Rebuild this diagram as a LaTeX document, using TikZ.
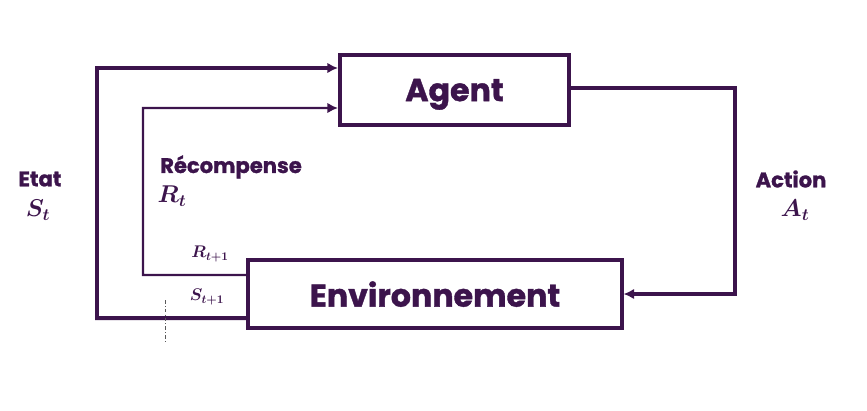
\documentclass[tikz,border=0pt]{standalone}
\usepackage{fontspec}
\setmainfont{Poppins}[BoldFeatures={FakeBold=1.2}]
\usepackage{bm}
\usetikzlibrary{arrows.meta}
\definecolor{prune}{RGB}{60,20,76}
\begin{document}
\begin{tikzpicture}[x=0.03cm,y=-0.03cm,
    bloc/.style={draw=prune,fill=white,text=prune,font=\fontsize{27}{30}\selectfont\bfseries,inner sep=0pt,text depth=0pt},
    lien/.style={draw=prune,-{Latex[length=9pt,width=9pt]}},
    etiq/.style={text=prune,font=\fontsize{18}{20}\selectfont\bfseries,inner sep=0pt},
    symb/.style={text=prune,font=\fontsize{21}{24}\selectfont,inner sep=0pt},
    petit/.style={text=prune,font=\fontsize{14}{16}\selectfont,inner sep=0pt}]
  \useasboundingbox (0,0) rectangle (867,410);
  % les deux blocs
  \node[bloc,line width=3.4pt,minimum width=6.87cm,minimum height=2.1cm] (agent) at (454.5,90) {Agent};
  \node[bloc,line width=2.6pt,minimum width=11.22cm,minimum height=2.04cm] (env) at (435,294) {Environnement};
  % boucles de retour
  \draw[lien,line width=3.4pt] ([yshift=-.72cm]env.west) -- (97,318) |- ([yshift=.66cm]agent.west);
  \draw[lien,line width=1.8pt] ([yshift=.57cm]env.west) -- (143,275) |- ([yshift=-.54cm]agent.west);
  \draw[lien,line width=2.6pt] ([yshift=.06cm]agent.east) -- (735,88) |- (env.east);
  \draw[gray!70!black,line width=.5pt,dash dot] (165,300) -- (165,342);
  % etiquettes
  \node[etiq] (etat) at (40,179) {Etat};
  \node[symb] (st) at (38,210) {$\bm{S_t}$};
  \node[etiq,anchor=west] (recomp) at (160,167) {Récompense};
  \node[symb] (rt) at (172,196) {$\bm{R_t}$};
  \node[etiq] (action) at (791,179) {Action};
  \node[symb] (at) at (795,210) {$\bm{A_t}$};
  \node[petit] (rt1) at (210,254) {$\bm{R_{t+1}}$};
  \node[petit] (st1) at (207,297) {$\bm{S_{t+1}}$};
\end{tikzpicture}
\end{document}
